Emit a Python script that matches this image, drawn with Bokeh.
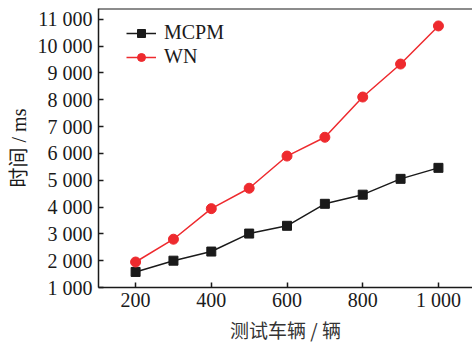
from bokeh.plotting import figure
from bokeh.models import Range1d, Span, Legend, LegendItem, FixedTicker
from bokeh.embed import file_html
from bokeh.resources import INLINE

vehicles = [200, 300, 400, 500, 600, 700, 800, 900, 1000]
mcpm = [1580, 2000, 2340, 3010, 3300, 4120, 4460, 5050, 5460]
wn = [1950, 2800, 3940, 4700, 5900, 6600, 8100, 9330, 10750]

x_ticks = [200, 400, 600, 800, 1000]
x_labels = ["200", "400", "600", "800", "1 000"]
y_ticks = [1000, 2000, 3000, 4000, 5000, 6000, 7000, 8000, 9000, 10000, 11000]
y_labels = ["1 000", "2 000", "3 000", "4 000", "5 000", "6 000", "7 000",
            "8 000", "9 000", "10 000", "11 000"]
x_title = "测试车辆 / 辆"
y_title = "时间 / ms"

SERIF = "'Liberation Serif', 'Noto Sans CJK SC'"
FS = "20px"

p = figure(width=472, height=345, output_backend="svg", toolbar_location=None,
           x_range=Range1d(102, 1090), y_range=Range1d(1000, 11400),
           min_border_left=98, min_border_right=0, min_border_top=8, min_border_bottom=57)
p.outline_line_color = None
p.grid.visible = False
p.background_fill_color = "white"

r1 = p.line(vehicles, mcpm, line_color="#1a1a1a", line_width=1.5)
r1m = p.scatter(vehicles, mcpm, marker="square", size=9, fill_color="#1a1a1a", line_color="#1a1a1a")
r2 = p.line(vehicles, wn, line_color="#ee2a2e", line_width=1.5)
r2m = p.scatter(vehicles, wn, marker="circle", size=10, fill_color="#ee2a2e", line_color="#ee2a2e")

p.add_layout(Span(location=11400, dimension="width", line_color="#1a1a1a", line_width=2))

for ax in (p.xaxis[0], p.yaxis[0]):
    ax.axis_line_color = "#1a1a1a"
    ax.axis_line_width = 1.5
    ax.major_tick_line_color = "#1a1a1a"
    ax.major_tick_line_width = 1.5
    ax.major_tick_in = 5
    ax.major_tick_out = 0
    ax.minor_tick_line_color = None
    ax.major_label_text_font = SERIF
    ax.major_label_text_font_size = FS
    ax.major_label_text_color = "#1a1a1a"
    ax.axis_label_text_font = SERIF
    ax.axis_label_text_font_size = FS
    ax.axis_label_text_font_style = "normal"
    ax.axis_label_text_color = "#1a1a1a"

p.xaxis.axis_label_text_font = "Noto Sans CJK SC"
p.xaxis.axis_label_text_font_size = "19px"
p.xaxis.axis_label_text_color = "#333333"
p.xaxis.ticker = FixedTicker(ticks=x_ticks)
p.xaxis.major_label_overrides = dict(zip(x_ticks, x_labels))
p.yaxis.ticker = FixedTicker(ticks=y_ticks)
p.yaxis.major_label_overrides = dict(zip(y_ticks, y_labels))
p.xaxis.axis_label = x_title
p.yaxis.axis_label = y_title
p.xaxis.major_label_standoff = 1
p.xaxis.axis_label_standoff = 2
p.yaxis.major_label_standoff = 6
p.yaxis.axis_label_standoff = 5

legend = Legend(items=[LegendItem(label="MCPM", renderers=[r1, r1m]),
                       LegendItem(label="WN", renderers=[r2, r2m])],
                location=(28, 219))
legend.border_line_color = None
legend.background_fill_alpha = 0
legend.margin = 0
legend.padding = 0
legend.spacing = 1
legend.glyph_width = 30
legend.label_standoff = 8
legend.label_text_font = SERIF
legend.label_text_font_size = FS
legend.label_text_color = "#1a1a1a"
p.add_layout(legend)

open("out.html", "w").write(file_html(p, INLINE))
